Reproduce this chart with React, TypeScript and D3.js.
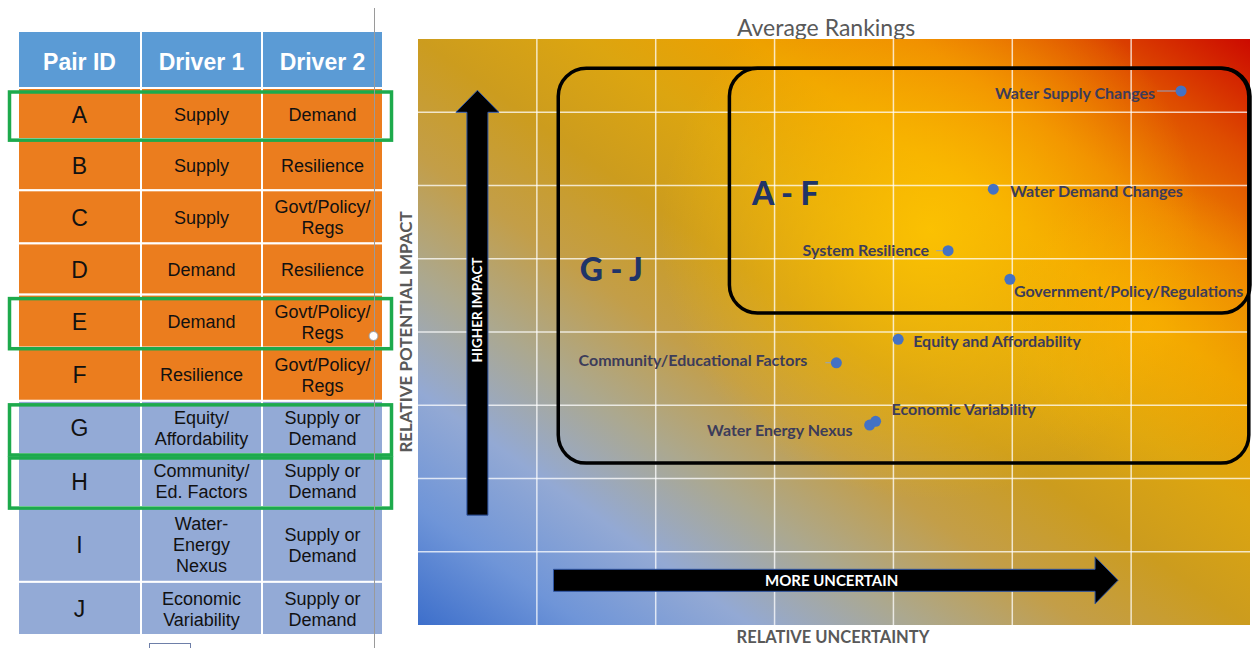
import React from "react";
import * as d3 from "d3";

// ---- Table data ----
const pairIds = ["A", "B", "C", "D", "E", "F", "G", "H", "I", "J"];
const driver1 = [
  "Supply",
  "Supply",
  "Supply",
  "Demand",
  "Demand",
  "Resilience",
  "Equity/\nAffordability",
  "Community/\nEd. Factors",
  "Water-\nEnergy\nNexus",
  "Economic\nVariability",
];
const driver2 = [
  "Demand",
  "Resilience",
  "Govt/Policy/\nRegs",
  "Resilience",
  "Govt/Policy/\nRegs",
  "Govt/Policy/\nRegs",
  "Supply or\nDemand",
  "Supply or\nDemand",
  "Supply or\nDemand",
  "Supply or\nDemand",
];
const tableHeaders = ["Pair ID", "Driver 1", "Driver 2"];
const highlightedPairs = ["A", "E", "G", "H"];
const orangeGroup = ["A", "B", "C", "D", "E", "F"];

// ---- Ranking data ----
const drivers = [
  "Water Supply Changes",
  "Water Demand Changes",
  "System Resilience",
  "Government/Policy/Regulations",
  "Equity and Affordability",
  "Community/Educational Factors",
  "Water Energy Nexus",
  "Economic Variability",
];
const uncertainty = [6.42, 4.84, 4.46, 4.98, 4.04, 3.52, 3.8, 3.85];
const impact = [7.29, 5.95, 5.11, 4.72, 3.9, 3.58, 2.73, 2.78];

const chartTitle = "Average Rankings";
const xAxisLabel = "RELATIVE UNCERTAINTY";
const yAxisLabel = "RELATIVE POTENTIAL IMPACT";
const groupLabels = ["A - F", "G - J"];

// ---- layout ----
const W = 1254;
const H = 648;
const plot = { left: 418, right: 1250, top: 39, bottom: 625 };
const table = { left: 18, top: 31, headerBottom: 88, bottom: 635 };
const colEdges = [18, 141, 262, 383];

const x = d3.scaleLinear().domain([0, 7]).range([plot.left, plot.right]);
const y = d3.scaleLinear().domain([0, 8]).range([plot.bottom, plot.top]);

// label placement relative to each dot
const labelLayout: Record<
  string,
  { anchor: "start" | "end"; dx: number; dy: number; leader?: number }
> = {
  "Water Supply Changes": { anchor: "end", dx: -26, dy: 1, leader: 19 },
  "Water Demand Changes": { anchor: "start", dx: 17, dy: 1 },
  "System Resilience": { anchor: "end", dx: -19, dy: -1, leader: 7 },
  "Government/Policy/Regulations": { anchor: "start", dx: 4, dy: 11 },
  "Equity and Affordability": { anchor: "start", dx: 15, dy: 1 },
  "Community/Educational Factors": { anchor: "end", dx: -29, dy: -3, leader: 6 },
  "Water Energy Nexus": { anchor: "end", dx: -17, dy: 4 },
  "Economic Variability": { anchor: "start", dx: 16, dy: -13 },
};

const tableFont = "'Liberation Sans', Arial, sans-serif";
const chartFont = "Lato, 'Open Sans', sans-serif";

function Table() {
  const lineCounts = pairIds.map((_, i) =>
    Math.max(driver1[i].split("\n").length, driver2[i].split("\n").length)
  );
  const raw = lineCounts.map((n) => (n === 1 ? 52 : n === 2 ? 54 : 76));
  const total = d3.sum(raw);
  const scale = (table.bottom - table.headerBottom) / total;
  const heights = raw.map((h) => h * scale);
  const tops: number[] = [];
  let acc = table.headerBottom;
  heights.forEach((h) => {
    tops.push(acc);
    acc += h;
  });

  const cell = (text: string, cx: number, cy: number, size: number, key: string) => {
    const lines = text.split("\n");
    const lh = 21;
    return (
      <text
        key={key}
        x={cx}
        textAnchor="middle"
        fontFamily={tableFont}
        fontSize={size}
        fill="#111"
      >
        {lines.map((l, j) => (
          <tspan
            key={j}
            x={cx}
            y={cy + (j - (lines.length - 1) / 2) * lh}
            dominantBaseline="central"
          >
            {l}
          </tspan>
        ))}
      </text>
    );
  };

  return (
    <g>
      {tableHeaders.map((h, c) => (
        <g key={h}>
          <rect
            x={colEdges[c]}
            y={table.top}
            width={colEdges[c + 1] - colEdges[c]}
            height={table.headerBottom - table.top}
            fill="#5B9BD5"
            stroke="#fff"
            strokeWidth={2}
          />
          <text
            x={(colEdges[c] + colEdges[c + 1]) / 2}
            y={(table.top + table.headerBottom) / 2 + 2}
            dominantBaseline="central"
            textAnchor="middle"
            fontFamily={tableFont}
            fontWeight="bold"
            fontSize={23}
            fill="#fff"
          >
            {h}
          </text>
        </g>
      ))}
      {pairIds.map((id, i) => {
        const fill = orangeGroup.includes(id) ? "#EB7D1E" : "#93AAD6";
        const cy = tops[i] + heights[i] / 2;
        const vals = [id, driver1[i], driver2[i]];
        return (
          <g key={id}>
            {vals.map((v, c) => (
              <rect
                key={c}
                x={colEdges[c]}
                y={tops[i]}
                width={colEdges[c + 1] - colEdges[c]}
                height={heights[i]}
                fill={fill}
                stroke="#fff"
                strokeWidth={2}
              />
            ))}
            {vals.map((v, c) =>
              cell(v, (colEdges[c] + colEdges[c + 1]) / 2, cy + 1, c === 0 ? 23 : 18, `t${c}`)
            )}
          </g>
        );
      })}
      {pairIds.map((id, i) =>
        highlightedPairs.includes(id) ? (
          <rect
            key={`hl${id}`}
            x={9.5}
            y={tops[i] + 4}
            width={382}
            height={heights[i] - 3}
            fill="none"
            stroke="#1DAA4C"
            strokeWidth={3.5}
          />
        ) : null
      )}
    </g>
  );
}

function Arrow({
  x0,
  y0,
  x1,
  y1,
  shaft,
  headW,
  headL,
}: {
  x0: number;
  y0: number;
  x1: number;
  y1: number;
  shaft: number;
  headW: number;
  headL: number;
}) {
  const len = Math.hypot(x1 - x0, y1 - y0);
  const ang = (Math.atan2(y1 - y0, x1 - x0) * 180) / Math.PI;
  const s = shaft / 2;
  const hw = headW / 2;
  const p = `M0,${-s} L${len - headL},${-s} L${len - headL},${-hw} L${len},0 L${len - headL},${hw} L${len - headL},${s} L0,${s} Z`;
  return (
    <path
      d={p}
      transform={`translate(${x0},${y0}) rotate(${ang})`}
      fill="#000"
      stroke="#2F55A4"
      strokeWidth={1}
    />
  );
}

function Chart() {
  const gridX = d3.range(1, 7);
  const gridY = d3.range(1, 8);
  const pw = plot.right - plot.left;
  const ph = plot.bottom - plot.top;

  // group enclosures in data units
  const boxGJ = { x0: 1.18, x1: 6.99, y0: 2.21, y1: 7.6 };
  const boxAF = { x0: 2.62, x1: 7.0, y0: 4.26, y1: 7.6 };

  return (
    <g>
      <defs>
        <linearGradient id="heat" x1="0" y1="1" x2="1" y2="0">
          <stop offset="0" stopColor="#3D6FCB" />
          <stop offset="0.1" stopColor="#6F95D8" />
          <stop offset="0.2" stopColor="#93A9D4" />
          <stop offset="0.3" stopColor="#ACA88E" />
          <stop offset="0.4" stopColor="#C39E48" />
          <stop offset="0.5" stopColor="#CC9C1E" />
          <stop offset="0.6" stopColor="#DCA510" />
          <stop offset="0.7" stopColor="#EDA000" />
          <stop offset="0.8" stopColor="#EC8000" />
          <stop offset="0.9" stopColor="#DE4C00" />
          <stop offset="1" stopColor="#CC0A00" />
        </linearGradient>
        <radialGradient
          id="glow"
          gradientUnits="userSpaceOnUse"
          cx={930}
          cy={230}
          r={270}
        >
          <stop offset="0" stopColor="#FFC600" stopOpacity={0.85} />
          <stop offset="0.6" stopColor="#FFC000" stopOpacity={0.35} />
          <stop offset="1" stopColor="#FFC000" stopOpacity={0} />
        </radialGradient>
        <radialGradient
          id="glow2"
          gradientUnits="userSpaceOnUse"
          cx={1150}
          cy={330}
          r={150}
        >
          <stop offset="0" stopColor="#FFB800" stopOpacity={0.5} />
          <stop offset="1" stopColor="#FFB800" stopOpacity={0} />
        </radialGradient>
      </defs>

      {/* title */}
      <text
        x={826}
        y={27}
        textAnchor="middle"
        dominantBaseline="central"
        fontFamily={chartFont}
        fontSize={23}
        fill="#595959"
      >
        {chartTitle}
      </text>

      {/* background */}
      <rect x={plot.left} y={plot.top} width={pw} height={ph} fill="url(#heat)" />
      <rect x={plot.left} y={plot.top} width={pw} height={ph} fill="url(#glow)" />
      <rect x={plot.left} y={plot.top} width={pw} height={ph} fill="url(#glow2)" />

      {/* grid */}
      {gridX.map((v) => (
        <line
          key={`gx${v}`}
          x1={x(v)}
          x2={x(v)}
          y1={plot.top}
          y2={plot.bottom}
          stroke="#fff"
          strokeOpacity={0.75}
          strokeWidth={1.5}
        />
      ))}
      {gridY.map((v) => (
        <line
          key={`gy${v}`}
          x1={plot.left}
          x2={plot.right}
          y1={y(v)}
          y2={y(v)}
          stroke="#fff"
          strokeOpacity={0.75}
          strokeWidth={1.5}
        />
      ))}

      {/* axis labels */}
      <text
        x={833}
        y={637}
        textAnchor="middle"
        dominantBaseline="central"
        fontFamily={chartFont}
        fontWeight="bold"
        fontSize={16.5}
        fill="#595959"
      >
        {xAxisLabel}
      </text>
      <text
        transform={`translate(405,${(plot.top + plot.bottom) / 2}) rotate(-90)`}
        textAnchor="middle"
        dominantBaseline="central"
        fontFamily={chartFont}
        fontWeight="bold"
        fontSize={17}
        fill="#595959"
      >
        {yAxisLabel}
      </text>

      {/* direction arrows */}
      <Arrow x0={x(0.5)} y0={y(1.5)} x1={x(0.5)} y1={y(7.3)} shaft={21} headW={43} headL={22} />
      <text
        transform={`translate(${x(0.5)},${y(4.3)}) rotate(-90)`}
        textAnchor="middle"
        dominantBaseline="central"
        fontFamily={chartFont}
        fontWeight="bold"
        fontSize={13.5}
        fill="#fff"
      >
        HIGHER IMPACT
      </text>
      <Arrow x0={x(1.14)} y0={y(0.61)} x1={x(5.89)} y1={y(0.61)} shaft={22} headW={47} headL={23} />
      <text
        x={x(3.48)}
        y={y(0.61)}
        textAnchor="middle"
        dominantBaseline="central"
        fontFamily={chartFont}
        fontWeight="bold"
        fontSize={15}
        fill="#fff"
      >
        MORE UNCERTAIN
      </text>

      {/* group enclosures */}
      {[boxGJ, boxAF].map((b, i) => (
        <rect
          key={`box${i}`}
          x={x(b.x0)}
          y={y(b.y1)}
          width={x(b.x1) - x(b.x0)}
          height={y(b.y0) - y(b.y1)}
          rx={28}
          ry={28}
          fill="none"
          stroke="#000"
          strokeWidth={3.5}
        />
      ))}
      <text
        x={x(2.81)}
        y={y(5.9)}
        dominantBaseline="central"
        fontFamily={chartFont}
        fontWeight="900"
        fontSize={32}
        fill="#1F3468"
      >
        {groupLabels[0]}
      </text>
      <text
        x={x(1.36)}
        y={y(4.87)}
        dominantBaseline="central"
        fontFamily={chartFont}
        fontWeight="900"
        fontSize={32}
        fill="#1F3468"
      >
        {groupLabels[1]}
      </text>

      {/* points */}
      {drivers.map((name, i) => {
        const cx = x(uncertainty[i]);
        const cy = y(impact[i]);
        const lay = labelLayout[name];
        return (
          <g key={name}>
            {lay.leader ? (
              <line
                x1={cx - 5 - lay.leader}
                x2={cx - 5}
                y1={cy}
                y2={cy}
                stroke="#8EA4C8"
                strokeWidth={1}
              />
            ) : null}
            <circle cx={cx} cy={cy} r={5.5} fill="#4472C4" />
            <text
              x={cx + lay.dx}
              y={cy + lay.dy}
              textAnchor={lay.anchor}
              dominantBaseline="central"
              fontFamily={chartFont}
              fontWeight="bold"
              fontSize={16}
              fill="#3C3C5A"
            >
              {name}
            </text>
          </g>
        );
      })}
    </g>
  );
}

export default function App() {
  return (
    <svg
      width={W}
      height={H}
      viewBox={`0 0 ${W} ${H}`}
      style={{ position: "absolute", left: 0, top: 0, background: "#fff" }}
    >
      <rect width={W} height={H} fill="#fff" />
      <Table />
      {/* slide divider and selection handles */}
      <line x1={374.5} x2={374.5} y1={8} y2={H} stroke="#9A9A9A" strokeWidth={1} />
      <circle cx={373.5} cy={336} r={4.5} fill="#fff" stroke="#9A9A9A" strokeWidth={1} />
      <rect x={149.5} y={643.5} width={41} height={8} fill="#fff" stroke="#6E7FA8" strokeWidth={1} />
      <Chart />
    </svg>
  );
}
